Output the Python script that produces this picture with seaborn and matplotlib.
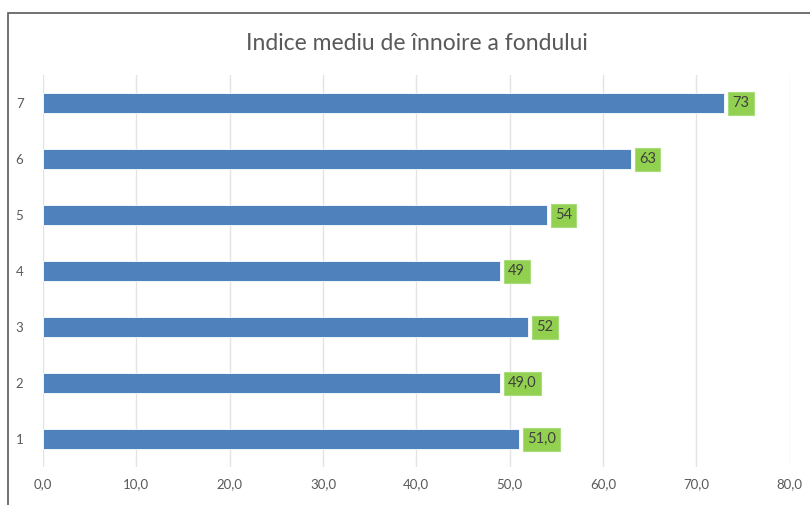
import matplotlib
matplotlib.use("Agg")
import matplotlib.pyplot as plt
import seaborn as sns
import pandas as pd
from matplotlib.patches import Rectangle

# date
categorii = ["1", "2", "3", "4", "5", "6", "7"]
valori = [51.0, 49.0, 52.0, 49.0, 54.0, 63.0, 73.0]
etichete = ["51,0", "49,0", "52", "49", "54", "63", "73"]
ticks_x = [0, 10, 20, 30, 40, 50, 60, 70, 80]
titlu = "Indice mediu de înnoire a fondului"

ALBASTRU = "#4F81BD"
VERDE = "#92D050"
GRI_TEXT = "#595959"
GRI_GRID = "#E3E3E3"

sns.set_style("white")
plt.rcParams["font.family"] = ["Lato", "DejaVu Sans"]

df = pd.DataFrame({"categorie": categorii, "valoare": valori, "eticheta": etichete})
ordine = categorii[::-1]

fig = plt.figure(figsize=(8.1, 5.05), dpi=100)
ax = fig.add_axes([0.053, 0.075, 0.922, 0.776])

sns.barplot(data=df, x="valoare", y="categorie", order=ordine, orient="h",
            color=ALBASTRU, saturation=1, width=0.36, ax=ax,
            edgecolor="white", linewidth=0.6)

ax.set_xlim(0, 80)
ax.set_ylim(6.5, -0.5)
ax.set_xticks(ticks_x)
ax.set_xticklabels([f"{t:.1f}".replace(".", ",") for t in ticks_x])
ax.xaxis.grid(True, color=GRI_GRID, linewidth=1)
ax.set_axisbelow(True)
for s in ax.spines.values():
    s.set_visible(False)
ax.tick_params(axis="both", length=0, colors=GRI_TEXT, labelsize=9.5)
ax.tick_params(axis="y", pad=14)
ax.tick_params(axis="x", pad=8)
ax.set_xlabel("")
ax.set_ylabel("")

# etichete in casute verzi
lab = dict(zip(categorii, etichete))
for patch, cat in zip(ax.patches, ordine):
    w = patch.get_width()
    yc = patch.get_y() + patch.get_height() / 2
    ax.text(w + 0.85, yc, lab[cat], ha="left", va="center", fontsize=10.5,
            color="#404040",
            bbox=dict(boxstyle="square,pad=0.3", facecolor=VERDE,
                      edgecolor="#A9DC7A", linewidth=0.8))

fig.suptitle(titlu, x=0.515, y=0.935, fontsize=16.5, color=GRI_TEXT)

# chenarul graficului
fig.patches.append(Rectangle((8 / 810, -0.1), 1.2, 1.1 - 13 / 505,
                             transform=fig.transFigure, fill=False,
                             edgecolor="#595959", linewidth=1.2))

fig.savefig("out.png", dpi=100)
